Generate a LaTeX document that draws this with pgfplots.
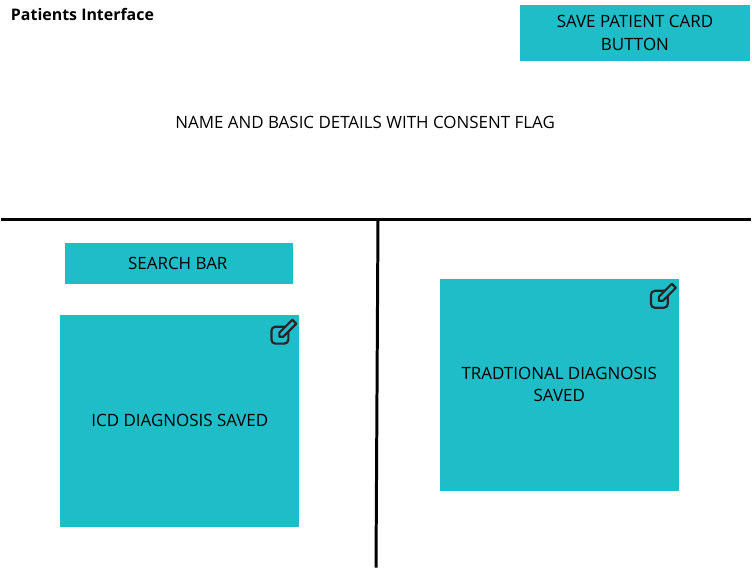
\documentclass[border=0pt]{standalone}
\usepackage{pgfplots}
\pgfplotsset{compat=1.18}
\usepackage{fontspec}
\setmainfont{Open Sans}
\definecolor{teal1}{HTML}{1FBDC7}
\newcommand{\editicon}[2]{%
  \draw[line width=2.2pt,rounded corners=4pt,black!85] (axis cs:#1+1,#2-3) -- (axis cs:#1-13,#2-3) -- (axis cs:#1-13,#2+14) -- (axis cs:#1+4,#2+14) -- (axis cs:#1+4,#2+2);
  \draw[line width=2.2pt,black!85,line join=round] (axis cs:#1-5,#2+7) -- (axis cs:#1-5,#2+3) -- (axis cs:#1+8,#2-10) -- (axis cs:#1+12,#2-6) -- (axis cs:#1-1,#2+7) -- cycle;
}
\begin{document}
\begin{tikzpicture}
\begin{axis}[scale only axis, width=752pt, height=570pt, hide axis,
  xmin=0,xmax=752,ymin=0,ymax=570,y dir=reverse, clip=false]
\addplot[draw=none] coordinates {(0,0) (752,570)};
\node[anchor=west,font=\fontsize{16}{19}\selectfont\bfseries] at (axis cs:6,15) {Patients Interface};
\fill[teal1] (axis cs:521,5) rectangle (axis cs:751,61);
\node[align=center,font=\fontsize{17}{23}\selectfont] at (axis cs:636,33) {SAVE PATIENT CARD\\BUTTON};
\node[font=\fontsize{17}{20}\selectfont] at (axis cs:365,123) {NAME AND BASIC DETAILS WITH CONSENT FLAG};
\draw[line width=3pt] (axis cs:0,220) -- (axis cs:752,220);
\draw[line width=3pt] (axis cs:378,220) -- (axis cs:376,570);
\fill[teal1] (axis cs:64,244) rectangle (axis cs:293,285);
\node[font=\fontsize{17}{20}\selectfont] at (axis cs:177,265) {SEARCH BAR};
\fill[teal1] (axis cs:59,316) rectangle (axis cs:299,529);
\node[font=\fontsize{17}{20}\selectfont] at (axis cs:179,422) {ICD DIAGNOSIS SAVED};
\editicon{284}{331}
\fill[teal1] (axis cs:440,280) rectangle (axis cs:680,493);
\node[align=center,font=\fontsize{17}{23}\selectfont] at (axis cs:560,386) {TRADTIONAL DIAGNOSIS\\SAVED};
\editicon{665}{295}
\end{axis}
\end{tikzpicture}
\end{document}
